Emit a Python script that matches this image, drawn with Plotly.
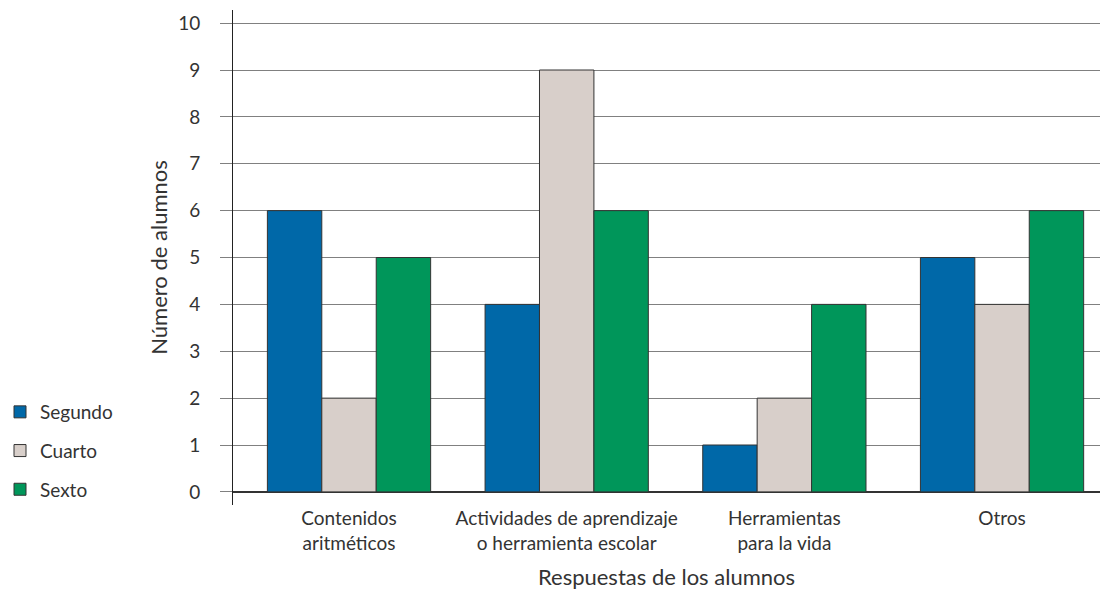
import plotly.graph_objects as go

categories = ["Contenidos<br>aritméticos",
              "Actividades de aprendizaje<br>o herramienta escolar",
              "Herramientas<br>para la vida",
              "Otros"]
series_names = ["Segundo", "Cuarto", "Sexto"]
segundo = [6, 4, 1, 5]
cuarto = [2, 9, 2, 4]
sexto = [5, 6, 4, 6]
colors = ["#0068A8", "#D8CFCA", "#00965A"]

FONT = "Lato"
fig = go.Figure()
for i, (name, vals) in enumerate(zip(series_names, [segundo, cuarto, sexto])):
    fig.add_trace(go.Bar(
        x=list(range(len(categories))), y=vals, name=name,
        marker=dict(color=colors[i], line=dict(color="#333333", width=1)),
        legendgroup=name,
    ))

fig.update_layout(
    width=1100, height=596,
    margin=dict(l=233, r=0, t=10, b=91),
    paper_bgcolor="white", plot_bgcolor="white",
    barmode="group", bargap=0.25, bargroupgap=0,
    font=dict(family=FONT, size=19, color="#333333"),
    legend=dict(xref="container", yref="container", x=0, y=1 - 393 / 596,
                xanchor="left", yanchor="top", tracegroupgap=11,
                font=dict(size=19, color="#333333"), itemwidth=30),
    showlegend=True,
)
fig.update_xaxes(
    range=[-0.533, 3.45], tickmode="array",
    tickvals=list(range(len(categories))), ticktext=categories,
    showgrid=False, zeroline=False, showline=False, ticks="",
    tickfont=dict(size=19, color="#333333"),
    title=dict(text="Respuestas de los alumnos", font=dict(size=22, color="#333333"), standoff=16),
)
fig.update_yaxes(
    range=[-0.28, 10.28], tickmode="array", tickvals=list(range(0, 11)),
    showgrid=True, gridcolor="#808080", gridwidth=1,
    zeroline=True, zerolinecolor="#333333", zerolinewidth=1.5,
    showline=True, linecolor="#222222", linewidth=1,
    ticks="outside", ticklen=12, tickcolor="#808080",
    ticklabelstandoff=16,
    tickfont=dict(size=19, color="#333333"),
    title=dict(text="Número de alumnos", font=dict(size=22, color="#333333"), standoff=4),
)
fig.write_html("out.html")
